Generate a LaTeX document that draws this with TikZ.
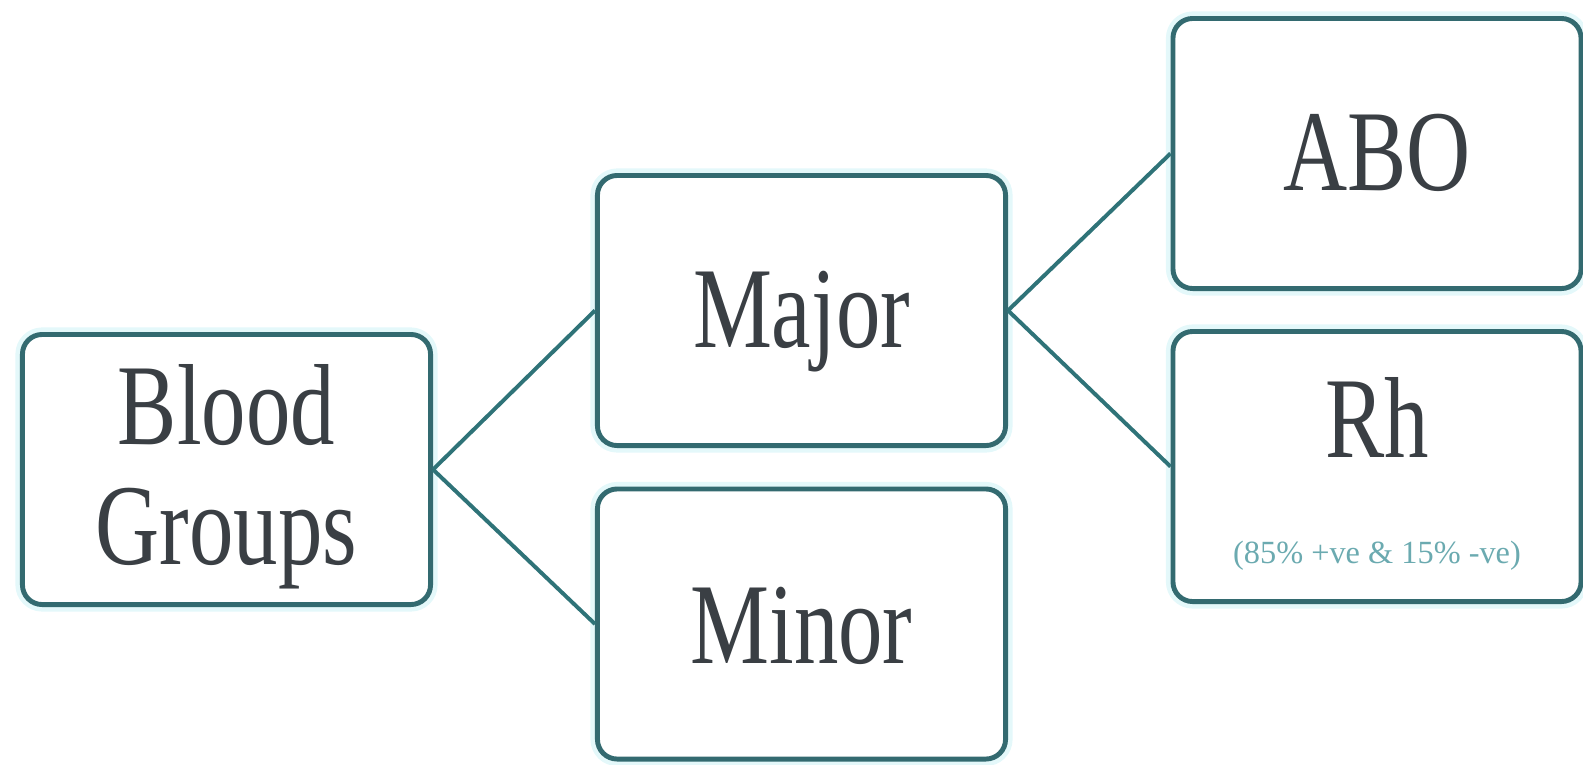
\documentclass[tikz,border=0pt]{standalone}
\usepackage{fontspec}
\setmainfont{Liberation Serif}
\newfontfamily\boxfont[FakeStretch=0.77]{Liberation Serif}
\definecolor{tealline}{HTML}{2F7378}
\definecolor{tealbox}{HTML}{336A70}
\definecolor{halo}{HTML}{E4F8FA}
\definecolor{inkgray}{HTML}{3A3F44}
\definecolor{rhnote}{HTML}{6BAAB0}

\begin{document}
\begin{tikzpicture}[x=0.025cm,y=-0.025cm,
    box/.style={draw=tealbox,line width=3.5pt,rounded corners=14pt,fill=white,
      minimum width=10.2cm,minimum height=6.75cm,inner sep=0pt,
      font=\boxfont\fontsize{82}{85}\selectfont,text=inkgray,align=center,
      preaction={draw=halo,line width=10pt}},
    oneline/.style={text height=56pt,text depth=4pt},
    link/.style={draw=tealline,line width=2.8pt}]

      \useasboundingbox (0,0) rectangle (1583,764);

      \node[box] (blood) at (226.5,469.5) {\rule{0pt}{67pt}Blood\\Groups};
      \node[box,oneline] (major) at (801.5,310.5) {Major};
      \node[box,oneline,text depth=0pt] (minor) at (801.5,624) {Minor};
      \node[box,oneline] (abo) at (1377,153.5) {ABO};
      \node[box] (rh) at (1377,466.5) {\rule{0pt}{67pt}Rh\\[-9.5pt]{\rmfamily\fontsize{23}{26}\selectfont\color{rhnote}(85\% +ve \& 15\% -ve)}};

      \draw[link] (blood.east) -- (major.west);
      \draw[link] (blood.east) -- (minor.west);
      \draw[link] (major.east) -- (abo.west);
      \draw[link] (major.east) -- (rh.west);
  \end{tikzpicture}
\end{document}
